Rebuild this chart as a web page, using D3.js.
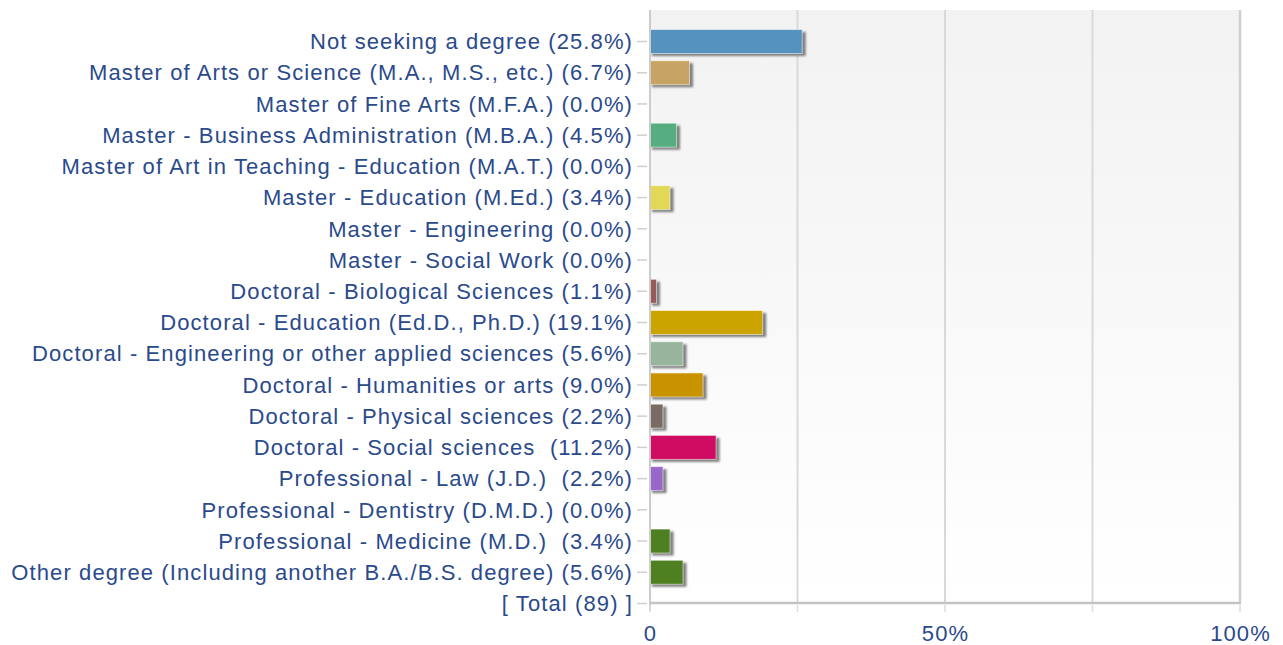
<!DOCTYPE html>
<html>
<head>
<meta charset="utf-8">
<script src="https://cdn.jsdelivr.net/npm/d3@7"></script>
<style>
  html, body { margin: 0; padding: 0; background: #fff; }
  svg { display: block; }
  .lbl { font-family: "Liberation Sans", Arial, sans-serif; font-size: 22px; letter-spacing: 1.1px; fill: #2a4a8c; white-space: pre; }
</style>
</head>
<body>
<svg id="chart" width="1283" height="645"></svg>
<script>
// Degree programs and share of respondents (%)
const categories = [
  "Not seeking a degree",
  "Master of Arts or Science (M.A., M.S., etc.)",
  "Master of Fine Arts (M.F.A.)",
  "Master - Business Administration (M.B.A.)",
  "Master of Art in Teaching - Education (M.A.T.)",
  "Master - Education (M.Ed.)",
  "Master - Engineering",
  "Master - Social Work",
  "Doctoral - Biological Sciences",
  "Doctoral - Education (Ed.D., Ph.D.)",
  "Doctoral - Engineering or other applied sciences",
  "Doctoral - Humanities or arts",
  "Doctoral - Physical sciences",
  "Doctoral - Social sciences ",
  "Professional - Law (J.D.) ",
  "Professional - Dentistry (D.M.D.)",
  "Professional - Medicine (M.D.) ",
  "Other degree (Including another B.A./B.S. degree)"
];
const percents = [25.8, 6.7, 0.0, 4.5, 0.0, 3.4, 0.0, 0.0, 1.1, 19.1, 5.6, 9.0, 2.2, 11.2, 2.2, 0.0, 3.4, 5.6];
const barColors = ["#5592c0", "#c8a464", "#999999", "#55ad80", "#999999", "#e2d856", "#999999", "#999999",
                   "#9a5a5a", "#cba400", "#97b59c", "#c99300", "#7a6a66", "#cf0b62", "#9966cc", "#999999",
                   "#4e7f20", "#4e7f20"];
const totalLabel = "[ Total (89) ]";
const xTickValues = [0, 25, 50, 75, 100];
const xTickLabels = { 0: "0", 50: "50%", 100: "100%" };

const svg = d3.select("#chart");
const plotLeft = 650, plotRight = 1240, plotTop = 10, plotBottom = 603;

const rows = categories.map((c, i) => ({ key: "r" + i, label: c + " (" + percents[i].toFixed(1) + "%)", value: percents[i], color: barColors[i] }));
const keys = rows.map(d => d.key).concat(["total"]);

const x = d3.scaleLinear().domain([0, 100]).range([plotLeft, plotRight]);
const y = d3.scalePoint().domain(keys).range([41.5, 603.5]);
const barH = 24;

const defs = svg.append("defs");
const grad = defs.append("linearGradient").attr("id", "bg").attr("x1", 0).attr("y1", 0).attr("x2", 0).attr("y2", 1);
grad.append("stop").attr("offset", "0%").attr("stop-color", "#f2f2f2");
grad.append("stop").attr("offset", "100%").attr("stop-color", "#ffffff");
const blur = defs.append("filter").attr("id", "soft").attr("x", "-20%").attr("y", "-40%").attr("width", "140%").attr("height", "180%");
blur.append("feGaussianBlur").attr("stdDeviation", 0.9);

// plot background
svg.append("rect").attr("x", plotLeft).attr("y", plotTop).attr("width", plotRight - plotLeft).attr("height", plotBottom - plotTop).attr("fill", "url(#bg)");

// vertical gridlines
svg.append("g").selectAll("line").data([25, 50, 75]).join("line")
  .attr("x1", d => x(d)).attr("x2", d => x(d)).attr("y1", plotTop).attr("y2", plotBottom)
  .attr("stroke", "#d9d9d9").attr("stroke-width", 2);

// right border
svg.append("line").attr("x1", plotRight).attr("x2", plotRight).attr("y1", plotTop).attr("y2", plotBottom)
  .attr("stroke", "#cfcfcf").attr("stroke-width", 2.5);

// bars with drop shadow
const bars = rows.filter(d => d.value > 0);
svg.append("g").selectAll("rect").data(bars).join("rect")
  .attr("x", x(0) + 2).attr("y", d => y(d.key) - barH / 2 + 2.5)
  .attr("width", d => x(d.value) - x(0) + 1.5).attr("height", barH)
  .attr("fill", "#7f7f7f").attr("filter", "url(#soft)");
svg.append("g").selectAll("rect").data(bars).join("rect")
  .attr("x", x(0)).attr("y", d => y(d.key) - barH / 2)
  .attr("width", d => x(d.value) - x(0)).attr("height", barH)
  .attr("fill", d => d.color)
  .attr("stroke", "rgba(255,255,255,0.55)").attr("stroke-width", 1);

// left axis line and ticks
svg.append("line").attr("x1", plotLeft).attr("x2", plotLeft).attr("y1", plotTop).attr("y2", plotBottom + 8)
  .attr("stroke", "#cccccc").attr("stroke-width", 2);
svg.append("g").selectAll("line").data(keys).join("line")
  .attr("x1", plotLeft - 13).attr("x2", plotLeft - 3).attr("y1", d => y(d)).attr("y2", d => y(d))
  .attr("stroke", "#cfcfcf").attr("stroke-width", 1.5);

// bottom axis line and ticks
svg.append("line").attr("x1", plotLeft).attr("x2", plotRight + 1).attr("y1", plotBottom).attr("y2", plotBottom)
  .attr("stroke", "#c4c4c4").attr("stroke-width", 2.5);
svg.append("g").selectAll("line").data(xTickValues).join("line")
  .attr("x1", d => x(d)).attr("x2", d => x(d)).attr("y1", plotBottom + 2).attr("y2", plotBottom + 9)
  .attr("stroke", "#dddddd").attr("stroke-width", 1.5);

// category labels
const labels = rows.map(d => ({ key: d.key, text: d.label })).concat([{ key: "total", text: totalLabel }]);
svg.append("g").selectAll("text").data(labels).join("text")
  .attr("class", "lbl")
  .attr("x", plotLeft - 17).attr("y", d => y(d.key)).attr("dy", "0.35em")
  .attr("text-anchor", "end").text(d => d.text);

// value axis labels
svg.append("g").selectAll("text").data(xTickValues.filter(v => xTickLabels[v] !== undefined)).join("text")
  .attr("class", "lbl")
  .attr("x", d => x(d) + 0.5).attr("y", 633).attr("dy", "0.35em")
  .attr("text-anchor", "middle")
  .text(d => xTickLabels[d]);
</script>
</body>
</html>
